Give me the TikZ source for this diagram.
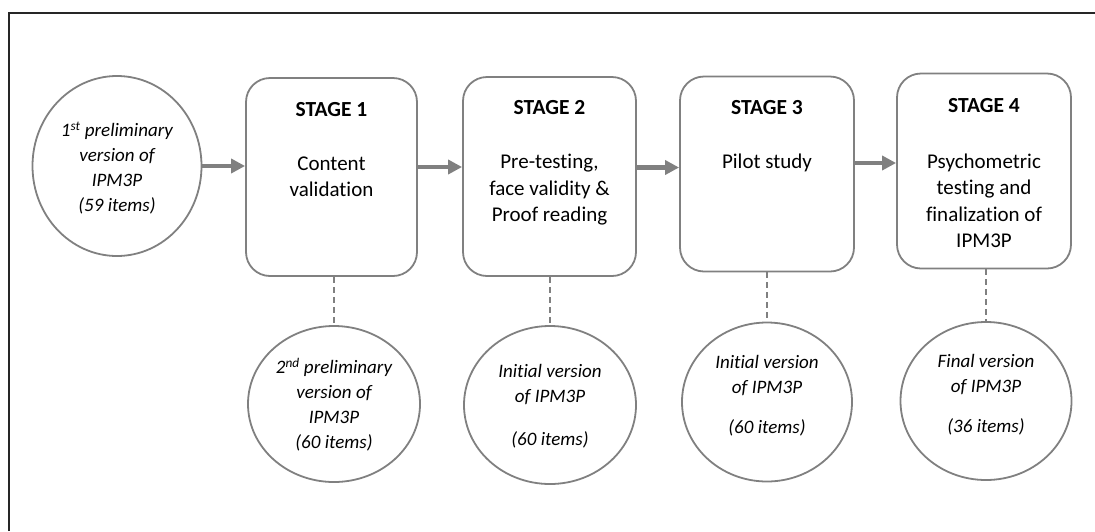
\documentclass[tikz,border=0pt]{standalone}
\usepackage{fontspec}
\setmainfont{Carlito}[Ligatures=NoCommon]
\usetikzlibrary{arrows.meta,shapes.geometric,calc}
\definecolor{edgegray}{RGB}{128,128,128}
\definecolor{framegray}{RGB}{38,38,38}
\begin{document}
\begin{tikzpicture}[x=1pt,y=1pt,
  stagebox/.style={draw=edgegray,line width=1.8pt,rounded corners=24pt,inner sep=0pt},
  versionnode/.style={draw=edgegray,line width=1.8pt,ellipse,inner sep=0pt},
  headtext/.style={font=\fontsize{21.5}{26}\selectfont\bfseries,inner sep=0pt},
  bodytext/.style={font=\fontsize{21}{26.5}\selectfont,align=center,inner sep=0pt},
  circtext/.style={font=\fontsize{19}{25}\selectfont\itshape,align=center,inner sep=0pt},
  flowarrow/.style={draw=edgegray,line width=4.5pt,-{Triangle[length=14pt,width=14pt]}},
  linkline/.style={draw=edgegray,line width=1.3pt,dash pattern=on 6pt off 4pt}]
\useasboundingbox (0,0) rectangle (1095,-531);
% frame
\draw[framegray,line width=2.2pt] (9,-531) -- (9,-13) -- (1095,-13);

% stage boxes
\node[stagebox,minimum width=171pt,minimum height=198pt] (s1) at (331.5,-177) {};
\node[stagebox,minimum width=173pt,minimum height=199pt] (s2) at (549.5,-176.5) {};
\node[stagebox,minimum width=174pt,minimum height=195pt] (s3) at (767,-174) {};
\node[stagebox,minimum width=174pt,minimum height=195pt] (s4) at (984,-171) {};

\node[headtext] (h1) at (331.5,-110) {STAGE 1};
\node[headtext] (h2) at (549.5,-108) {STAGE 2};
\node[headtext] (h3) at (767,-108) {STAGE 3};
\node[headtext] (h4) at (984,-106) {STAGE 4};

\node[bodytext] (b1) at (331.5,-177) {Content\\validation};
\node[bodytext] (b2) at (549.5,-190) {Pre-testing,\\face validity \&\\Proof reading};
\node[bodytext] (b3) at (767,-163) {Pilot study};
\node[bodytext] (b4) at (984,-201) {Psychometric\\testing and\\finalization of\\IPM3P};

% version ellipses
\node[versionnode,minimum width=169pt,minimum height=180pt] (c0) at (117,-166) {};
\node[versionnode,minimum width=172pt,minimum height=156pt] (c1) at (334,-404) {};
\node[versionnode,minimum width=172pt,minimum height=158pt] (c2) at (550,-405) {};
\node[versionnode,minimum width=170pt,minimum height=159pt] (c3) at (767,-402) {};
\node[versionnode,minimum width=171pt,minimum height=158pt] (c4) at (986,-401) {};

\node[circtext] (t0) at (117,-168) {1\textsuperscript{st} preliminary\\version of\\IPM3P\\(59 items)};
\node[circtext] (t1) at (334,-405) {2\textsuperscript{nd} preliminary\\version of\\IPM3P\\(60 items)};
\node[circtext] (t2) at (550,-406) {Initial version\\of IPM3P\\[18pt](60 items)};
\node[circtext] (t3) at (767,-396) {Initial version\\of IPM3P\\[15pt](60 items)};
\node[circtext] (t4) at (986,-394.5) {Final version\\of IPM3P\\[15pt](36 items)};

% arrows
\draw[flowarrow] (c0.east) -- (c0.east -| s1.west);
\draw[flowarrow] ([yshift=10pt]s1.east) -- ([yshift=10pt]s1.east -| s2.west);
\draw[flowarrow] ([yshift=9pt]s2.east) -- ([yshift=9pt]s2.east -| s3.west);
\draw[flowarrow] ([yshift=11pt]s3.east) -- ([yshift=11pt]s3.east -| s4.west);

% dashed links
\draw[linkline] (c1.north |- s1.south) -- (c1.north);
\draw[linkline] (c2.north |- s2.south) -- (c2.north);
\draw[linkline] (c3.north |- s3.south) -- (c3.north);
\draw[linkline] (c4.north |- s4.south) -- (c4.north);
\end{tikzpicture}
\end{document}
